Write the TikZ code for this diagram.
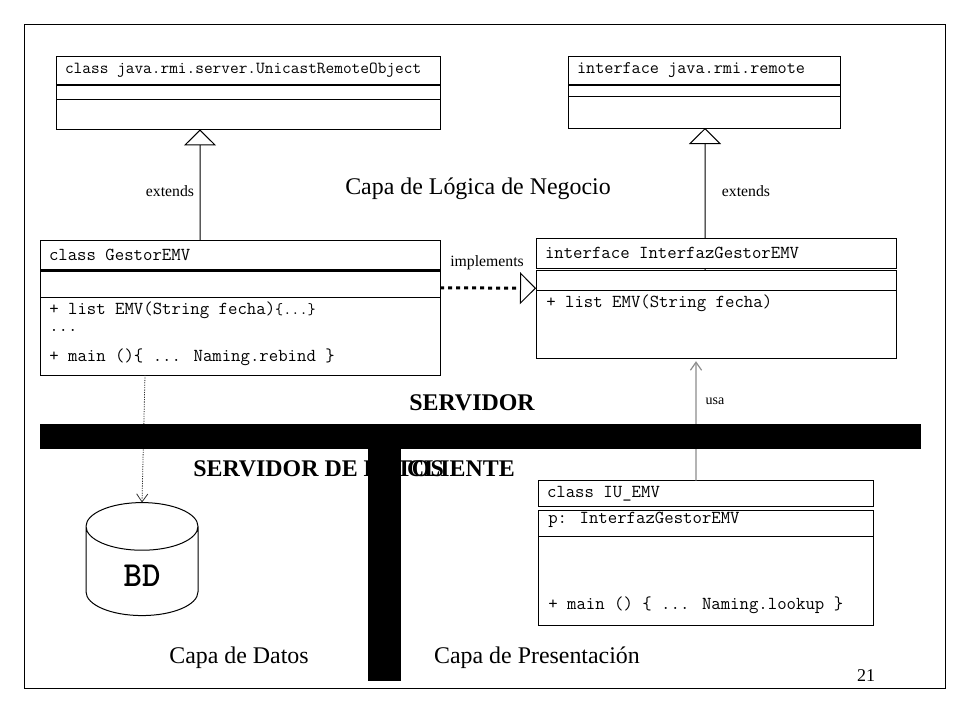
\documentclass[tikz,border=0pt]{standalone}
\usepackage{fontspec}
\setmainfont{Liberation Serif}
\usetikzlibrary{positioning,arrows.meta,shapes.geometric,calc}

\begin{document}
\begin{tikzpicture}[
  umlbox/.style={rectangle, draw=black, line width=0.025cm, outer sep=0pt, anchor=north west,
             inner xsep=0.225cm, inner ysep=0pt, align=flush left, font=\fontsize{13}{15}\ttfamily},
  code/.style={anchor=west, inner sep=0pt, font=\fontsize{13}{15}\ttfamily},
  rule/.style={line width=0.055cm},
  lbl/.style={inner sep=0pt, font=\fontsize{11.2}{13}\selectfont},
  capa/.style={inner sep=0pt, font=\fontsize{17}{20}\selectfont},
  tier/.style={inner sep=0pt, font=\fontsize{17}{20}\selectfont\bfseries},
  bar/.style={rectangle, fill=black, inner sep=0pt, outer sep=0pt},
  inh/.style={-{Triangle[open,length=0.4cm,width=0.8cm]}, line width=0.025cm},
  impl/.style={-{Triangle[open,length=0.4cm,width=0.8cm,line width=0.025cm]},
             line width=0.075cm, dash pattern=on 0.1cm off 0.1cm},
  dep/.style={-{Straight Barb[length=0.2cm,width=0.28cm]}, line width=0.02cm, black!80, dash pattern=on 0.03cm off 0.03cm},
  usaarr/.style={-{Straight Barb[length=0.2cm,width=0.28cm]}, line width=0.03cm, black!45},
]
\useasboundingbox (0,0) rectangle (24,-18);

% --- frame ---
\draw[line width=0.025cm] (0.6,-0.6) rectangle (23.625,-17.2);

% --- rmi classes ---
\node[umlbox, text width=9.15cm, minimum height=0.725cm, font=\fontsize{12}{15}\ttfamily] (unicastName) at (1.4,-1.4)
  {class java.rmi.server.UnicastRemoteObject};
\node[umlbox, minimum width=9.6cm, minimum height=0.36cm] (unicastAttr) at (unicastName.south west) {};
\node[umlbox, minimum width=9.6cm, minimum height=0.75cm] (unicastOps) at (unicastAttr.south west) {};

\node[umlbox, text width=6.35cm, minimum height=0.725cm, font=\fontsize{12.6}{15}\ttfamily] (remoteName) at (14.2,-1.4)
  {interface java.rmi.remote};
\node[umlbox, minimum width=6.8cm, minimum height=0.275cm] (remoteAttr) at (remoteName.south west) {};
\node[umlbox, minimum width=6.8cm, minimum height=0.8cm] (remoteOps) at (remoteAttr.south west) {};

% --- server classes ---
\node[umlbox, text width=9.55cm, minimum height=0.7625cm] (gestorName) at (1.0,-6.0) {class GestorEMV};
\node[umlbox, minimum width=10cm, minimum height=0.6625cm] (gestorAttr) at (gestorName.south west) {};
\node[umlbox, minimum width=10cm, minimum height=1.95cm] (gestorOps) at (gestorAttr.south west) {};
\node[code] (gestorList) at (1.225,-7.75) {+ list EMV(String fecha){\fontsize{11.2}{15}\selectfont\{...\}}};
\node[code] (gestorDots) at (1.225,-8.25) {...};
\node[code] (gestorMain) at (1.225,-8.925) {+ main ()\{ ... Naming.rebind \}};

\node[umlbox, text width=8.55cm, minimum height=0.75cm] (ifaceName) at (13.4,-5.95) {interface InterfazGestorEMV};
\node[umlbox, minimum width=9cm, minimum height=0.4875cm] (ifaceAttr) at ([yshift=-0.0625cm]ifaceName.south west) {};
\node[umlbox, minimum width=9cm, minimum height=1.7cm] (ifaceOps) at (ifaceAttr.south west) {};
\node[code] (ifaceList) at (13.65,-7.575) {+ list EMV(String fecha)};

% --- client class ---
\node[umlbox, text width=7.925cm, minimum height=0.6375cm] (iuName) at (13.45,-12.0125) {class IU\_EMV};
\node[umlbox, minimum width=8.375cm, minimum height=0.6325cm] (iuAttr) at ([yshift=-0.1175cm]iuName.south west) {};
\node[code] (iuAttrTxt) at (13.7,-13) {p: InterfazGestorEMV};
\node[umlbox, minimum width=8.375cm, minimum height=2.225cm] (iuOps) at (iuAttr.south west) {};
\node[code] (iuMain) at (13.7,-15.125) {+ main () \{ ... Naming.lookup \}};

% --- data base ---
\node[cylinder, shape border rotate=90, draw=black, line width=0.025cm, aspect=1.03, outer sep=0pt,
      minimum width=2.8cm, minimum height=2.825cm, font=\fontsize{25}{28}\ttfamily\bfseries] (bd) at (3.55,-14.4) {BD};

% --- texts ---
\node[lbl] (extA) at (4.25,-4.775) {extends};
\node[lbl] (extB) at (18.65,-4.775) {extends};
\node[lbl] (implLbl) at (12.175,-6.575) {implements};
\node[lbl, font=\fontsize{10}{12}\selectfont] (usaLbl) at (17.875,-10.03) {usa};
\node[capa] (logica) at (11.95,-4.725) {Capa de Lógica de Negocio};
\node[capa] (datos) at (5.975,-16.45) {Capa de Datos};
\node[capa] (present) at (13.425,-16.45) {Capa de Presentación};
\node[tier] (srv) at (11.8,-10.075) {SERVIDOR};
\node[tier, anchor=west] (srvDatos) at (4.825,-11.725) {SERVIDOR DE DATOS};
\node[tier, anchor=east] (cliente) at (12.875,-11.725) {CLIENTE};
\node[inner sep=0pt, font=\fontsize{12.8}{15}\selectfont] (pagina) at (21.65,-16.9) {21};

% --- arrows ---
\draw[rule] (unicastName.south west) -- (unicastName.south east);
\draw[rule] (remoteName.south west) -- (remoteName.south east);
\draw[rule] (gestorName.south west) -- (gestorName.south east);
\draw[inh] ([xshift=-1cm]gestorName.north) -- ([xshift=-1.2cm]unicastOps.south);
\draw[inh] ([xshift=-0.275cm]ifaceName.north) -- ([xshift=0.025cm]remoteOps.south);
\draw[line width=0.025cm] ([xshift=-0.275cm]ifaceName.south) -- ([xshift=-0.275cm]ifaceAttr.north);
\draw[impl] ([yshift=-0.1cm]gestorAttr.east) -- ([yshift=-0.2cm]ifaceAttr.west);
\draw[dep] ([xshift=-2.375cm]gestorOps.south) -- (bd.north);
\draw[usaarr] ([xshift=-0.2375cm]iuName.north) -- ([xshift=-0.5cm,yshift=-0.08cm]ifaceOps.south);

% --- tier bars, over the arrows and labels ---
\node[bar, minimum width=22.025cm, minimum height=0.625cm] (barH) at (12.0125,-10.9125) {};
\node[bar, minimum width=0.825cm, minimum height=5.8cm] (barV) at (9.6125,-14.125) {};

\end{tikzpicture}
\end{document}
